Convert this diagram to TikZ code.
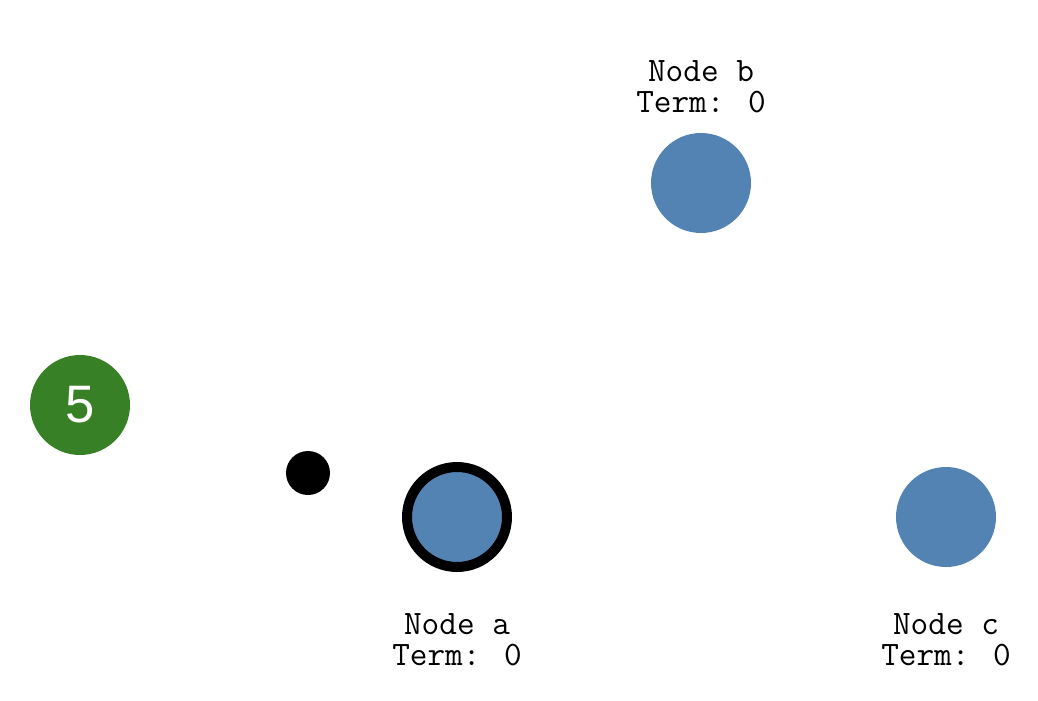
\documentclass[tikz,border=0pt]{standalone}
\usepackage{fontspec}
\setmainfont{Liberation Sans}
\usepackage{tikz}
\usetikzlibrary{positioning}
\definecolor{nodeblue}{RGB}{82,131,179}
\definecolor{leadgreen}{RGB}{56,128,37}
\tikzset{
  vertex/.style={circle,fill=nodeblue,inner sep=0pt,minimum size=2cm},
  caption/.style={align=center,inner sep=0pt,font=\ttfamily\fontsize{19.5}{17.5}\selectfont}
}

\begin{document}
\begin{tikzpicture}[x=0.02cm,y=-0.02cm]
\useasboundingbox (0,0) rectangle (1038,700);
\node [vertex,draw=black,line width=0.2cm,name=a] at (457,517) {};
\node [vertex,name=b] at (701,183) {};
\node [vertex,name=c] at (946,517) {};
\node [caption,name=acap] at (457,640) {Node a\\Term: 0};
\node [caption,name=bcap] at (701,87) {Node b\\Term: 0};
\node [caption,name=ccap] at (946,640) {Node c\\Term: 0};
\node [circle,fill=leadgreen,inner sep=0pt,minimum size=2cm,text=white,font=\fontsize{30}{32}\selectfont,name=leader] at (80,405) {5};
\node [circle,fill=black,inner sep=0pt,minimum size=0.88cm,name=msg] at (308,473) {};
\end{tikzpicture}
\end{document}
